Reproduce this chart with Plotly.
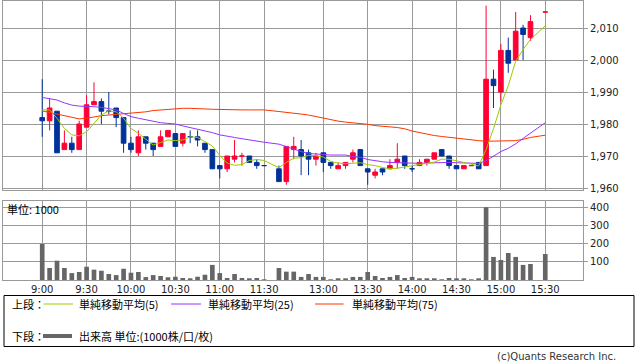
import plotly.graph_objects as go

# ---------------- data ----------------
morning = [f"{h}:{m:02d}" for h in (9, 10, 11) for m in range(0, 60, 5) if (h, m) <= (11, 30)]
afternoon = [f"{h}:{m:02d}" for h in (12, 13, 14, 15) for m in range(0, 60, 5) if (12, 30) <= (h, m) <= (15, 20)]
times = morning + afternoon + ["15:30"]
slots = morning + ["12:25"] + afternoon + ["15:25", "15:30"]   # axis categories (incl. empty slots)

opens = [1982, 1981, 1984, 1972, 1974, 1972, 1979, 1986, 1987, 1984, 1985, 1982, 1974, 1971, 1976, 1974,
         1973, 1976, 1977, 1974, 1976, 1976, 1974, 1972, 1967, 1966, 1969, 1970, 1970, 1968, 1967,
         1966, 1962, 1972, 1972, 1971, 1969, 1971, 1968, 1966, 1967, 1969, 1972, 1966, 1964, 1966, 1966,
         1968, 1970, 1966, 1967, 1968, 1969, 1972, 1970, 1967, 1966, 1967, 1968, 1967, 1994, 1990, 2003,
         2000, 2010, 2007, 2015]
highs = [1994, 1988, 1984, 1978, 1976, 1981, 1989, 1993, 1988, 1990, 1985, 1982, 1976, 1978, 1976, 1974,
         1978, 1978, 1977, 1977, 1978, 1978, 1974, 1972, 1967, 1970, 1975, 1971, 1970, 1969, 1967,
         1967, 1973, 1976, 1975, 1972, 1971, 1971, 1968, 1968, 1968, 1972, 1972, 1966, 1966, 1966, 1969,
         1974, 1970, 1967, 1969, 1969, 1971, 1972, 1970, 1967, 1967, 1967, 1968, 2017, 1997, 2005, 2007,
         2015, 2011, 2014, 2015]
lows = [1976, 1978, 1971, 1972, 1971, 1972, 1979, 1986, 1980, 1983, 1979, 1971, 1971, 1970, 1972, 1970,
        1973, 1976, 1973, 1973, 1974, 1973, 1971, 1966, 1963, 1965, 1968, 1967, 1968, 1966, 1967,
        1962, 1961, 1969, 1964, 1964, 1967, 1965, 1966, 1966, 1966, 1968, 1967, 1961, 1963, 1964, 1966,
        1966, 1966, 1965, 1967, 1967, 1969, 1970, 1966, 1966, 1966, 1967, 1966, 1967, 1985, 1987, 1996,
        2000, 2000, 2006, 2015]
closes = [1981, 1985, 1971, 1974, 1972, 1980, 1986, 1987, 1984, 1984, 1982, 1974, 1972, 1976, 1974, 1972,
          1976, 1978, 1973, 1977, 1976, 1975, 1972, 1966, 1966, 1970, 1970, 1970, 1968, 1967, 1967,
          1962, 1973, 1973, 1970, 1969, 1970, 1968, 1967, 1967, 1968, 1971, 1967, 1965, 1965, 1965, 1967,
          1969, 1967, 1966, 1968, 1969, 1971, 1970, 1967, 1966, 1967, 1967, 1966, 1994, 1992, 2003, 1999,
          2009, 2008, 2012, 2015]
volume = [198, 66, 106, 66, 38, 44, 73, 57, 51, 33, 27, 62, 40, 44, 16, 27, 22, 15, 18, 11, 7, 18, 29, 83,
          38, 11, 33, 11, 7, 11, 2,
          66, 46, 46, 17, 33, 17, 17, 2, 7, 7, 17, 17, 44, 22, 11, 17, 27, 11, 17, 7, 7, 7, 2, 11, 7, 7, 2,
          7, 400, 127, 110, 149, 127, 83, 88, 143]
ma5 = [1984.4, 1984.4, 1981.8, 1978.6, 1976.6, 1976.3, 1977.6, 1980.2, 1982.8, 1984.1, 1983.8, 1981.8,
       1978.6, 1977.1, 1975.2, 1973.4, 1974.2, 1975.0, 1974.8, 1975.0, 1976.0, 1975.8, 1974.5, 1973.1,
       1970.2, 1967.8, 1967.1, 1967.3, 1968.6, 1968.9, 1968.6,
       1966.3, 1968.0, 1969.3, 1969.5, 1970.2, 1970.1, 1969.7, 1968.3, 1967.8, 1967.6, 1967.7, 1967.9,
       1967.3, 1967.0, 1966.4, 1966.0, 1966.2, 1966.6, 1966.9, 1967.3, 1967.6, 1968.1, 1969.0, 1969.0,
       1968.5, 1967.9, 1967.5, 1966.9, 1972.0, 1978.5, 1986.0, 1992.0, 1999.6, 2003.3, 2006.4, 2010.7]
ma25 = [1988.3, 1988.0, 1987.5, 1986.6, 1985.9, 1985.6, 1985.6, 1985.4, 1985.2, 1984.8, 1984.4, 1983.3,
        1982.3, 1981.8, 1981.3, 1980.7, 1980.4, 1980.2, 1980.0, 1979.4, 1978.9, 1978.3, 1977.8, 1977.3,
        1976.6, 1976.1, 1975.8, 1975.4, 1975.0, 1974.5, 1974.3,
        1973.7, 1972.9, 1972.1, 1971.4, 1970.8, 1970.6, 1970.3, 1970.3, 1970.3, 1970.3, 1969.8, 1969.6,
        1968.9, 1968.5, 1968.2, 1968.0, 1967.9, 1967.9, 1967.7, 1967.7, 1967.8, 1967.9, 1967.9, 1968.0,
        1967.9, 1967.9, 1967.7, 1967.7, 1968.5, 1970.0, 1971.4, 1972.4, 1973.8, 1975.5, 1977.1, 1980.4]
ma75 = [1984.1, 1983.6, 1983.0, 1982.5, 1982.1, 1981.6, 1981.8, 1982.3, 1982.6, 1982.8, 1983.0, 1983.2,
        1983.3, 1983.5, 1983.8, 1984.2, 1984.4, 1984.7, 1984.9, 1984.9, 1984.9, 1984.9, 1984.7, 1984.6,
        1984.5, 1984.4, 1984.4, 1984.4, 1984.4, 1984.4, 1984.4,
        1983.9, 1983.7, 1983.3, 1983.1, 1982.8, 1982.3, 1981.8, 1981.3, 1980.9, 1980.6, 1980.4, 1980.2,
        1979.9, 1979.5, 1979.2, 1979.1, 1978.9, 1978.5, 1977.8, 1977.3, 1976.9, 1976.4, 1976.1, 1975.8,
        1975.6, 1975.4, 1975.0, 1974.8, 1974.6, 1974.6, 1974.6, 1974.6, 1974.8, 1975.2, 1975.8, 1976.5]

tick_times = ["9:00", "9:30", "10:00", "10:30", "11:00", "11:30", "13:00", "13:30", "14:00", "14:30", "15:00", "15:30"]
price_ticks = [1960, 1970, 1980, 1990, 2000, 2010]
vol_ticks = [100, 200, 300, 400]

# ---------------- styles ----------------
RED = "#ff0033"
BLUE = "#003399"
GRID = "#999999"
C5, C25, C75 = "#99cc00", "#9933ff", "#ff3300"
VOLC = "#666666"
FONT = "DejaVu Sans"
JFONT = "Noto Sans CJK JP"

W, H = 638, 362
L, R, T, B = 3, 55, 1, 82
PW, PH = W - L - R, H - T - B


def px(x):
    return (x - L) / PW


def py(y):
    return (H - B - y) / PH


fig = go.Figure()
fig.add_trace(go.Candlestick(
    x=times, open=opens, high=highs, low=lows, close=closes,
    increasing=dict(line=dict(color=RED, width=1), fillcolor=RED),
    decreasing=dict(line=dict(color=BLUE, width=1), fillcolor=BLUE),
    whiskerwidth=0, xaxis="x", yaxis="y", showlegend=False, hoverinfo="skip"))
for vals, col in ((ma75, C75), (ma25, C25), (ma5, C5)):
    fig.add_trace(go.Scatter(x=times, y=vals, mode="lines", line=dict(color=col, width=1),
                             xaxis="x", yaxis="y", showlegend=False, hoverinfo="skip"))
fig.add_trace(go.Bar(x=times, y=volume, marker=dict(color=VOLC, line=dict(width=0)), width=0.63,
                     xaxis="x2", yaxis="y2", showlegend=False, hoverinfo="skip"))

axis_common = dict(showgrid=True, gridcolor=GRID, gridwidth=1, showline=True, linecolor=GRID,
                   linewidth=1, mirror=True, zeroline=False)
xcommon = dict(type="category", categoryorder="array", categoryarray=slots, range=[-5.3, 73.1],
               tickmode="array", tickvals=tick_times,
               ticktext=tick_times, ticks="", rangeslider=dict(visible=False), **axis_common)

fig.update_layout(
    width=W, height=H, margin=dict(l=L, r=R, t=T, b=B),
    paper_bgcolor="white", plot_bgcolor="white", showlegend=False, bargap=0.37,
    boxgap=0.1, boxgroupgap=0.3,
    xaxis=dict(domain=[0, 1], anchor="y", showticklabels=False, **xcommon),
    xaxis2=dict(domain=[0, 1], anchor="y2", matches="x", showticklabels=True,
                tickfont=dict(family=FONT, size=10, color="#222"), **xcommon),
    yaxis=dict(domain=[py(190), 1], anchor="x", side="right", range=[1959.375, 2018.44],
               tickmode="array", tickvals=price_ticks, tickformat=",d", ticks="outside", ticklen=4,
               tickcolor=GRID, tickfont=dict(family=FONT, size=10, color="#222"), **axis_common),
    yaxis2=dict(domain=[0, py(201.3)], anchor="x2", side="right", range=[0, 433],
                tickmode="array", tickvals=vol_ticks, ticks="outside", ticklen=4, tickcolor=GRID,
                tickfont=dict(family=FONT, size=10, color="#222"), **axis_common),
)

shapes = [dict(type="rect", xref="paper", yref="paper", x0=px(4), x1=px(634), y0=py(346.5), y1=py(295.5),
               line=dict(color="#000", width=1), fillcolor="rgba(0,0,0,0)")]
for x0, x1, yy, col, wdt in ((43.5, 73, 304, C5, 1), (171, 201, 304, C25, 1), (315, 343.5, 304, C75, 1),
                             (43, 72, 336, VOLC, 4)):
    shapes.append(dict(type="line", xref="paper", yref="paper", x0=px(x0), x1=px(x1), y0=py(yy), y1=py(yy),
                       line=dict(color=col, width=wdt)))
fig.update_layout(shapes=shapes)

ann = []
for txt, x, y in (("上段：", 10, 304), ("単純移動平均(5)", 77, 304), ("単純移動平均(25)", 206, 304),
                  ("単純移動平均(75)", 350, 304), ("下段：", 10, 336),
                  ("出来高 単位:(1000株/口/枚)", 77, 336), ("単位: 1000", 5, 209)):
    ann.append(dict(text=txt, xref="paper", yref="paper", x=px(x), y=py(y), xanchor="left", yanchor="middle",
                    showarrow=False, font=dict(family=JFONT, size=11, color="#000")))
ann.append(dict(text="(c)Quants Research Inc.", xref="paper", yref="paper", x=px(618), y=py(356),
                xanchor="right", yanchor="middle", showarrow=False,
                font=dict(family=FONT, size=10, color="#333")))
fig.update_layout(annotations=ann)

fig.write_html("out.html")
